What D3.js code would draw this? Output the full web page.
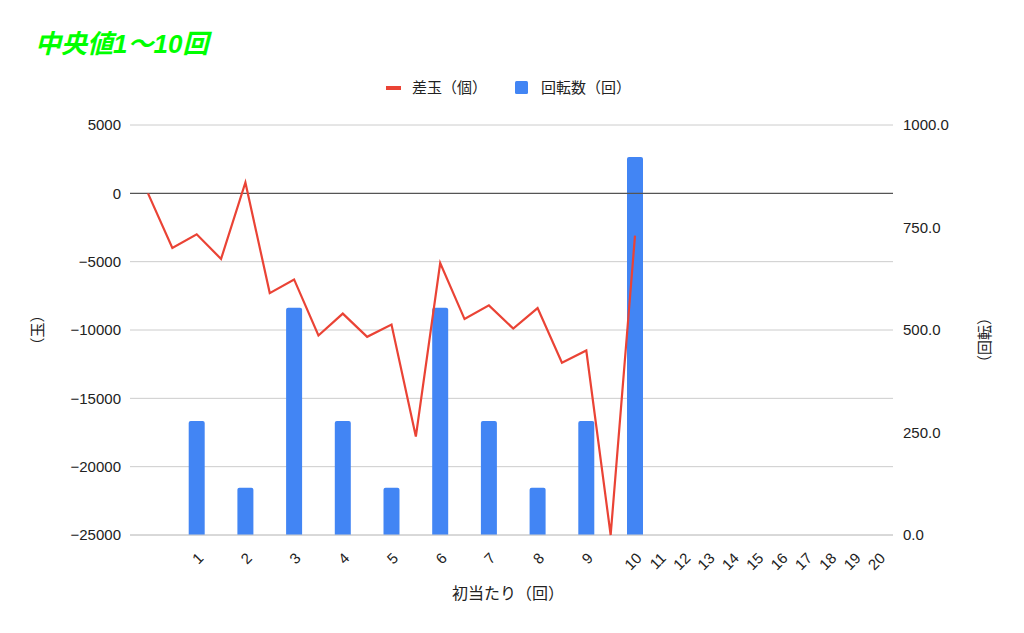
<!DOCTYPE html>
<html><head><meta charset="utf-8">
<script src="https://cdn.jsdelivr.net/npm/d3@7"></script>
<style>body{margin:0;background:#fff;} svg{display:block;font-family:Arial,"Liberation Sans","Noto Sans CJK JP",sans-serif;}</style>
</head><body>
<script>
// x slots (labels); blank labels are half-step positions
const categories = ["", "", "1", "", "2", "", "3", "", "4", "", "5", "", "6", "", "7", "", "8", "", "9", "", "10",
  "11", "12", "13", "14", "15", "16", "17", "18", "19", "20"];
// 差玉（個） at slots 0..20
const diffValues = [0, -4000, -3000, -4800, 800, -7300, -6300, -10400, -8800, -10500, -9600,
  -17800, -5100, -9200, -8200, -9900, -8400, -12400, -11500, -25000, -3100];
// 回転数（回） for draws 1..10
const spinLabels = ["1","2","3","4","5","6","7","8","9","10"];
const spinValues = [278, 115, 554, 278, 115, 554, 278, 115, 278, 922];
const leftTicks = [5000, 0, -5000, -10000, -15000, -20000, -25000];
const rightTicks = [1000, 750, 500, 250, 0];

const W = 1024, H = 633;
const L = 130, R = 893, T = 125, B = 535;
const svg = d3.select("body").append("svg").attr("width", W).attr("height", H);

const x = d3.scalePoint().domain(d3.range(categories.length)).range([148, 878.5]);
const yL = d3.scaleLinear().domain([-25000, 5000]).range([B, T]);
const yR = d3.scaleLinear().domain([0, 1000]).range([B, T]);

// title
svg.append("text").attr("x", 35).attr("y", 53).text("中央値1〜10回")
  .attr("font-size", 26).attr("font-weight", "bold").attr("font-style", "italic")
  .attr("fill", "#00ff00").style("font-family", "Arial,'Noto Sans CJK JP',sans-serif");

// legend
const lg = svg.append("g").attr("font-size", 15).attr("fill", "#222");
lg.append("rect").attr("x", 386).attr("y", 86).attr("width", 15).attr("height", 4).attr("fill", "#ea4335");
lg.append("text").attr("x", 412).attr("y", 93).text("差玉（個）");
lg.append("rect").attr("x", 515).attr("y", 81).attr("width", 13).attr("height", 13).attr("rx", 1.5).attr("fill", "#4285f4");
lg.append("text").attr("x", 541).attr("y", 93).text("回転数（回）");

// gridlines
svg.append("g").selectAll("line").data(leftTicks.filter(d => d !== 0)).join("line")
  .attr("x1", L).attr("x2", R).attr("y1", d => yL(d)).attr("y2", d => yL(d))
  .attr("stroke", "#cccccc").attr("stroke-width", 1);

// left axis
const axL = svg.append("g").attr("transform", `translate(${L},0)`)
  .call(d3.axisLeft(yL).tickValues(leftTicks).tickSize(0).tickPadding(9).tickFormat(d3.format("d")));
axL.select(".domain").remove();
axL.selectAll("text").attr("font-size", 15).attr("fill", "#222").style("font-family", "Arial,sans-serif");

// right axis
const axR = svg.append("g").attr("transform", `translate(${R},0)`)
  .call(d3.axisRight(yR).tickValues(rightTicks).tickSize(0).tickPadding(10).tickFormat(d3.format(".1f")));
axR.select(".domain").remove();
axR.selectAll("text").attr("font-size", 15).attr("fill", "#222").style("font-family", "Arial,sans-serif");

// x axis
const axX = svg.append("g").attr("transform", `translate(0,${B})`)
  .call(d3.axisBottom(x).tickSize(0).tickFormat(i => categories[i]));
axX.select(".domain").remove();
axX.selectAll("text").attr("font-size", 15).attr("fill", "#222").style("font-family", "Arial,sans-serif")
  .attr("text-anchor", "end").attr("dx", 0).attr("dy", 0)
  .attr("transform", "translate(5,22) rotate(-45)");

// bars
const bw = 16;
svg.append("g").selectAll("path").data(spinValues.map((v, k) => ({v, slot: categories.indexOf(spinLabels[k])})))
  .join("path").attr("fill", "#4285f4")
  .attr("d", d => {
    const x0 = x(d.slot) - bw / 2, y0 = yR(d.v), y1 = yR(0), r = 2;
    return `M${x0},${y1}V${y0 + r}Q${x0},${y0} ${x0 + r},${y0}H${x0 + bw - r}Q${x0 + bw},${y0} ${x0 + bw},${y0 + r}V${y1}Z`;
  });

// baseline & zero line
svg.append("line").attr("x1", L).attr("x2", R).attr("y1", B).attr("y2", B).attr("stroke", "#cccccc");
svg.append("line").attr("x1", L).attr("x2", R).attr("y1", yL(0)).attr("y2", yL(0)).attr("stroke", "#555").attr("stroke-width", 1.3);

// line
svg.append("path").datum(diffValues)
  .attr("fill", "none").attr("stroke", "#ea4335").attr("stroke-width", 2.2).attr("stroke-linejoin", "miter")
  .attr("d", d3.line().x((d, i) => x(i)).y(d => yL(d)));

// axis titles
svg.append("text").attr("transform", "translate(43,330) rotate(-90)").attr("text-anchor", "middle")
  .attr("font-size", 15).attr("fill", "#222").text("（玉）");
svg.append("text").attr("transform", "translate(990,340) rotate(-90)").attr("text-anchor", "middle")
  .attr("font-size", 15).attr("fill", "#222").text("（回転）");
svg.append("text").attr("x", 508).attr("y", 599).attr("text-anchor", "middle")
  .attr("font-size", 16).attr("fill", "#222").text("初当たり（回）");
</script>
</body></html>
